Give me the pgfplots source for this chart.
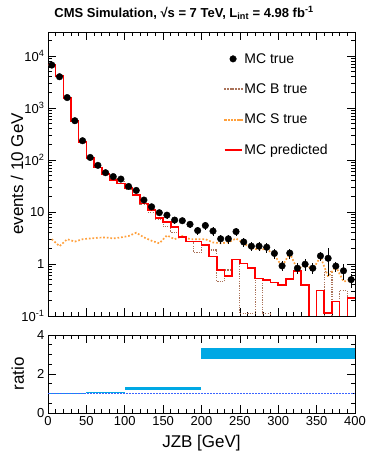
\documentclass[border=0pt]{standalone}
\usepackage{fontspec}
\setmainfont{Liberation Sans}
\usepackage{pgfplots}
\usepackage{pgfplotstable}
\pgfplotsset{compat=1.18}

\definecolor{predred}{RGB}{255,0,0}
\definecolor{bbrown}{RGB}{170,115,90}
\definecolor{sorange}{RGB}{255,160,60}
\definecolor{ratiofill}{RGB}{0,168,228}
\definecolor{ratioline}{RGB}{60,100,255}

% bin edges, MC predicted, MC B true (0.001 = empty bin)
\pgfplotstableread{
edge pred btrue
0   6900  6690
10  4100  3990
20  1550  1540
30  560   555
40  225   222
50  110   108
60  72    74
70  54    53
80  41.5  44
90  35.6  39
100 28.6  27.5
110 21.3  21.5
120 14.7  13.8
130 10.9  9.8
140 7.6   7.2
150 6.5   5.2
160 5.2   4.1
170 3.3   3.3
180 2.7   2.7
190 2.7   1.65
200 2.3   2.3
210 1.4   1.86
220 0.77  0.46
230 0.59  0.77
240 1.23  1.2
250 1.03  0.11
260 0.83  0.11
270 0.53  0.53
280 0.49  0.11
290 0.44  0.001
300 0.39  0.001
310 0.51  0.001
320 0.74  0.001
330 0.39  0.001
340 0.001 0.001
350 0.31  0.001
360 0.115 0.71
370 0.19  0.001
380 0.001 0.31
390 0.22  0.001
400 0.22  0.001
}\histtab

% bin centres, MC true with error, MC S true
\pgfplotstableread{
xc  true  err  strue
5   6700  80   3.0
15  4000  60   2.2
25  1590  30   3.0
35  570   15   2.7
45  235   8    3.0
55  112   4    3.1
65  79    3.5  3.2
75  57    3    3.25
85  48    3    3.1
95  43    3    3.25
105 31    2.5  3.45
115 26    2.2  4.0
125 17    1.8  3.25
135 12.6  1.5  2.8
145 9.7   1.2  2.5
155 8.7   1.2  3.55
165 7.0   1.0  3.0
175 6.8   1.0  3.45
185 5.8   0.9  3.0
195 4.4   0.8  3.0
205 5.5   0.9  3.0
215 4.3   0.8  2.6
225 3.05  0.6  2.5
235 3.05  0.6  2.6
245 4.2   0.8  3.1
255 2.65  0.5  2.5
265 2.2   0.45 2.0
275 2.2   0.45 1.9
285 2.1   0.45 1.95
295 1.6   0.35 1.49
305 0.92  0.2  0.89
315 1.62  0.35 1.62
325 0.83  0.2  0.78
335 0.99  0.25 0.99
345 0.83  0.2  0.78
355 1.43  0.3  1.38
365 1.29  0.7  0.57
375 0.91  0.2  0.9
385 0.74  0.25 0.46
395 0.5   0.15 0.49
}\pointtab

\pgfplotsset{
  rootstyle/.style={
    scale only axis, width=307pt,
    xmin=0, xmax=400,
    xtick={0,50,...,400}, minor x tick num=4,
    tick align=inside, major tick length=8pt, minor tick length=4pt,
    axis line style={line width=0.8pt},
    every tick/.append style={black, line width=0.6pt},
    tick label style={font=\fontsize{13}{15}\selectfont},
    label style={font=\fontsize{17}{19}\selectfont},
    /pgf/number format/assume math mode=true,
  },
  strue style/.style={color=sorange, line width=1.7pt, dash pattern=on 1.7pt off 1.9pt},
  btrue style/.style={color=bbrown, line width=1.2pt, dash pattern=on 1.2pt off 1.2pt},
  pred style/.style={color=predred, line width=1.6pt},
}

\begin{document}
\begin{tikzpicture}
\begin{axis}[rootstyle,
  at={(48pt,137pt)}, anchor=south west, height=284pt,
  ymode=log, ymin=0.1, ymax=2.9e4,
  xticklabels={},
  ytick={0.1,1,10,100,1000,10000},
  yticklabels={10\textsuperscript{-1},1,10,10\textsuperscript{2},10\textsuperscript{3},10\textsuperscript{4}},
  minor ytick={0.2,0.3,0.4,0.5,0.6,0.7,0.8,0.9,2,3,4,5,6,7,8,9,20,30,40,50,60,70,80,90,200,300,400,500,600,700,800,900,2000,3000,4000,5000,6000,7000,8000,9000,20000},
  ylabel={events / 10 GeV},
  ylabel style={at={(axis description cs:-0.101,0.5)}, anchor=center},
  legend style={at={(0.562,0.94)}, anchor=north west, draw=none, fill=none,
    font=\fontsize{14}{16}\selectfont, row sep=15pt,
    /tikz/every even column/.append style={column sep=3pt}},
  legend cell align=left,
]
\addlegendimage{only marks, mark=*, mark size=3.3pt, black}
\addlegendentry{MC true}
\addlegendimage{legend image code/.code={
  \foreach \k in {0,...,6}{\fill[bbrown] (\k*2.7pt,-0.5pt) rectangle ++(1pt,1pt);}}}
\addlegendentry{MC B true}
\addlegendimage{legend image code/.code={
  \foreach \k in {0,...,5}{\fill[sorange] (\k*3.2pt,-0.7pt) rectangle ++(1.4pt,1.4pt);}}}
\addlegendentry{MC S true}
\addlegendimage{pred style}
\addlegendentry{MC predicted}

\addplot[const plot, btrue style, forget plot]
  table[x=edge, y=btrue] {\histtab};
\addplot[sharp plot, strue style, forget plot]
  table[x=xc, y=strue] {\pointtab};
\addplot[const plot, pred style, forget plot]
  table[x=edge, y=pred] {\histtab};
\addplot[only marks, mark=*, mark size=3.3pt, black, forget plot,
  error bars/.cd, y dir=both, y explicit, error bar style={line width=0.8pt}, error mark=none]
  table[x=xc, y=true, y error=err] {\pointtab};
\end{axis}

\begin{axis}[rootstyle,
  at={(48pt,40pt)}, anchor=south west, height=78pt,
  ymin=0, ymax=4, ytick={0,2,4}, minor y tick num=3,
  xlabel={JZB [GeV]}, ylabel={ratio},
  xlabel style={at={(axis description cs:0.5,-0.39)}, anchor=center},
  ylabel style={at={(axis description cs:-0.098,0.5)}, anchor=center},
]
\addplot[fill=ratiofill, draw=none] coordinates {(0,0.97) (50,0.97) (50,1.01) (0,1.01)} -- cycle;
\addplot[fill=ratiofill, draw=none] coordinates {(50,1.0) (100,1.0) (100,1.09) (50,1.09)} -- cycle;
\addplot[fill=ratiofill, draw=none] coordinates {(100,1.19) (200,1.19) (200,1.33) (100,1.33)} -- cycle;
\addplot[fill=ratiofill, draw=none] coordinates {(200,2.78) (400,2.78) (400,3.33) (200,3.33)} -- cycle;
\addplot[color=ratioline, line width=1.1pt, dash pattern=on 1.6pt off 1.4pt] coordinates {(0,1) (400,1)};
\end{axis}

\node[font=\bfseries\fontsize{13}{16}\selectfont] at (184pt,440pt)
  {CMS Simulation, √s = 7 TeV, L\textsubscript{int} = 4.98 fb\textsuperscript{-1}};

\pgfresetboundingbox
\path (0,0) rectangle (374pt,453pt);
\end{tikzpicture}
\end{document}
